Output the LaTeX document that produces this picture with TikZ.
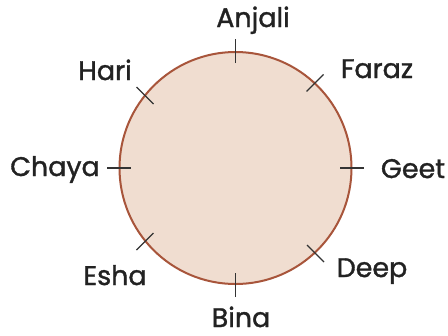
\documentclass[tikz,border=0pt]{standalone}
\usepackage{fontspec}
\setmainfont{Poppins}[FakeBold=1.3,AutoFakeBold=1.3]
\definecolor{ringfill}{HTML}{F0DDD0}
\definecolor{ringline}{HTML}{A8553B}
\definecolor{ink}{HTML}{222222}
\definecolor{tickc}{HTML}{333333}
\begin{document}
\begin{tikzpicture}[x=1bp,y=-1bp,
  lbl/.style={font=\fontsize{27}{30}\selectfont\bfseries, text=ink, inner sep=0pt, anchor=base},
  tickline/.style={draw=tickc, line width=1.1bp}]
\useasboundingbox (0,0) rectangle (448,335);
\node[circle, minimum size=232bp, inner sep=0pt, fill=ringfill, draw=ringline, line width=2bp] (ring) at (235.5,168) {};
% tick centres on the circle
\coordinate (tA) at (235.5,51);
\coordinate (tF) at (315,83);
\coordinate (tG) at (352,168);
\coordinate (tD) at (315.5,253.5);
\coordinate (tB) at (235.5,285);
\coordinate (tE) at (145,241.5);
\coordinate (tC) at (119,168);
\coordinate (tH) at (145,95.5);
\draw[tickline] ([yshift=-12bp]tA) -- ([yshift=12bp]tA);
\draw[tickline] ([yshift=-12bp]tB) -- ([yshift=12bp]tB);
\draw[tickline] ([xshift=-12bp]tG) -- ([xshift=12bp]tG);
\draw[tickline] ([xshift=-12bp]tC) -- ([xshift=12bp]tC);
\draw[tickline] ([shift={(-8.5,8.5)}]tF) -- ([shift={(8.5,-8.5)}]tF);
\draw[tickline] ([shift={(-8.5,-8.5)}]tD) -- ([shift={(8.5,8.5)}]tD);
\draw[tickline] ([shift={(-8.5,8.5)}]tE) -- ([shift={(8.5,-8.5)}]tE);
\draw[tickline] ([shift={(-8.5,-8.5)}]tH) -- ([shift={(8.5,8.5)}]tH);
\node[lbl] (anjali) at (253,27) {Anjali};
\node[lbl] (faraz) at (377,78) {Faraz};
\node[lbl] (geet) at (413,178) {Geet};
\node[lbl] (deep) at (372,277) {Deep};
\node[lbl, text depth=0pt] (bina) at (241,327) {Bina};
\node[lbl] (esha) at (115,285) {Esha};
\node[lbl] (chaya) at (55,176) {Chaya};
\node[lbl] (hari) at (105,80) {Hari};
\end{tikzpicture}
\end{document}
